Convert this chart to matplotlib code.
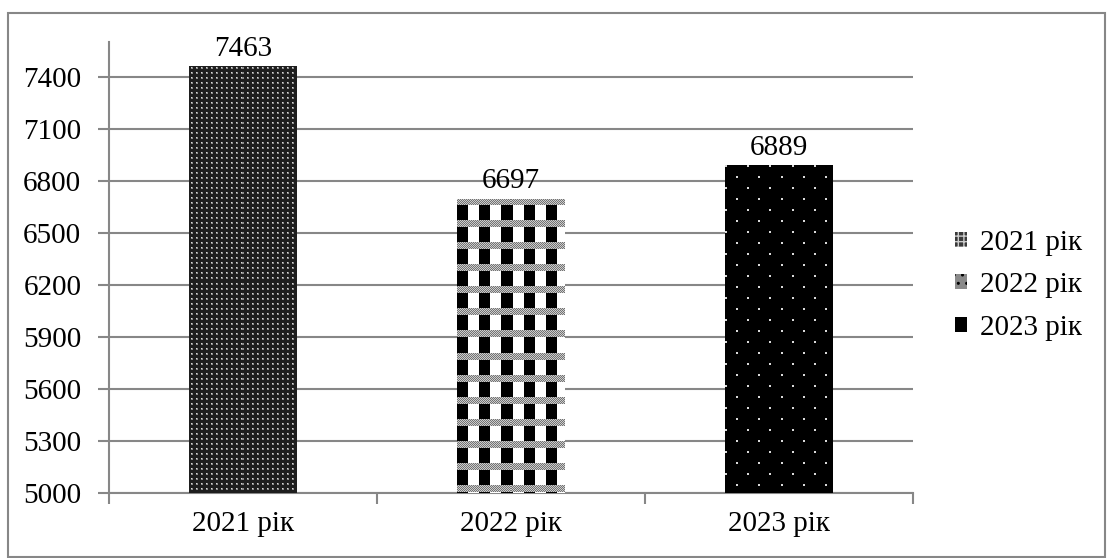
import numpy as np
import matplotlib
matplotlib.use("Agg")
import matplotlib.pyplot as plt
from matplotlib.patches import Patch, Rectangle

categories = ["2021 рік", "2022 рік", "2023 рік"]
values = [7463, 6697, 6889]
yticks = [5000, 5300, 5600, 5900, 6200, 6500, 6800, 7100, 7400]

plt.rcParams["font.family"] = ["Liberation Serif", "DejaVu Serif"]
GRAY = "#878787"
FS = 21


def pat_2021(w, h):
    yy, xx = np.mgrid[0:h, 0:w]
    a = np.full((h, w), 0.12)
    a[(xx % 5 >= 2) & (xx % 5 <= 3) & (yy % 5 >= 2) & (yy % 5 <= 3)] = 0.55
    a[(xx % 5 == 2) & (yy % 5 == 2)] = 0.85
    return a


def pat_2022(w, h):
    yy, xx = np.mgrid[0:h, 0:w]
    a = np.where(xx % 22 < 11, 0.0, 1.0)
    band = (yy % 22) < 7
    dots = np.where((xx + yy) % 2 == 0, 0.45, 0.8)
    a = np.where(band, dots, a)
    return a


def pat_2023(w, h):
    yy, xx = np.mgrid[0:h, 0:w]
    a = np.zeros((h, w))
    d1 = (xx % 22 < 2) & (yy % 22 < 2)
    d2 = ((xx + 11) % 22 < 2) & ((yy + 11) % 22 < 2)
    a[d1 | d2] = 0.85
    return a


patterns = [pat_2021, pat_2022, pat_2023]

fig = plt.figure(figsize=(11.07, 5.58), dpi=100)
ax = fig.add_axes([0.0985, 0.1165, 0.7263, 0.8082])

x = np.arange(len(categories))
bars = ax.bar(x, values, width=0.4, color="none", edgecolor="none", zorder=3)
ax.set_xlim(-0.5, len(categories) - 0.5)
ax.set_ylim(5000, 7600)

for b, f in zip(bars, patterns):
    x0, x1 = b.get_x(), b.get_x() + b.get_width()
    y0, y1 = ax.get_ylim()[0], b.get_height()
    p0 = ax.transData.transform((x0, y0))
    p1 = ax.transData.transform((x1, y1))
    w = int(round(p1[0] - p0[0]))
    h = int(round(p1[1] - p0[1]))
    im = ax.imshow(f(w, h), cmap="gray", vmin=0, vmax=1, interpolation="nearest",
                   extent=[x0, x1, y0, y1], aspect="auto", zorder=3)
    im.set_clip_path(b)
    ax.annotate(str(b.get_height()), (b.get_x() + b.get_width() / 2, b.get_height()),
                xytext=(0, 3), textcoords="offset points", ha="center", va="bottom",
                fontsize=FS)

ax.set_aspect("auto")
ax.set_xlim(-0.5, len(categories) - 0.5)
ax.set_ylim(5000, 7600)

ax.set_yticks(yticks)
ax.set_xticks(x)
ax.set_xticklabels(categories)
ax.set_xticks(np.arange(-0.5, len(categories)), minor=True)
ax.tick_params(axis="x", which="major", length=0, labelsize=FS, pad=13)
ax.tick_params(axis="x", which="minor", length=8, width=1.5, color=GRAY)
ax.tick_params(axis="y", length=8, width=1.5, color=GRAY, labelsize=FS, pad=12)
ax.yaxis.grid(True, color=GRAY, linewidth=1.5)
ax.set_axisbelow(True)
for s in ["top", "right"]:
    ax.spines[s].set_visible(False)
for s in ["left", "bottom"]:
    ax.spines[s].set_color(GRAY)
    ax.spines[s].set_linewidth(1.5)

handles = [
    Patch(facecolor="#3a3a3a", edgecolor="#cccccc", hatch="+++", linewidth=0),
    Patch(facecolor="#8a8a8a", edgecolor="#000000", hatch="..", linewidth=0),
    Patch(facecolor="#000000", edgecolor="#000000", linewidth=0),
]
fig.legend(handles, categories, loc="center left", bbox_to_anchor=(0.8627, 0.489),
           frameon=False, fontsize=FS, handlelength=0.41, handleheight=0.41,
           handletextpad=0.45, labelspacing=0.57, borderpad=0, borderaxespad=0)

fig.patches.append(Rectangle((0.0072, 0.002), 0.9910, 0.9747, transform=fig.transFigure,
                             fill=False, edgecolor=GRAY, linewidth=1.5))

fig.savefig("out.png", dpi=100)
